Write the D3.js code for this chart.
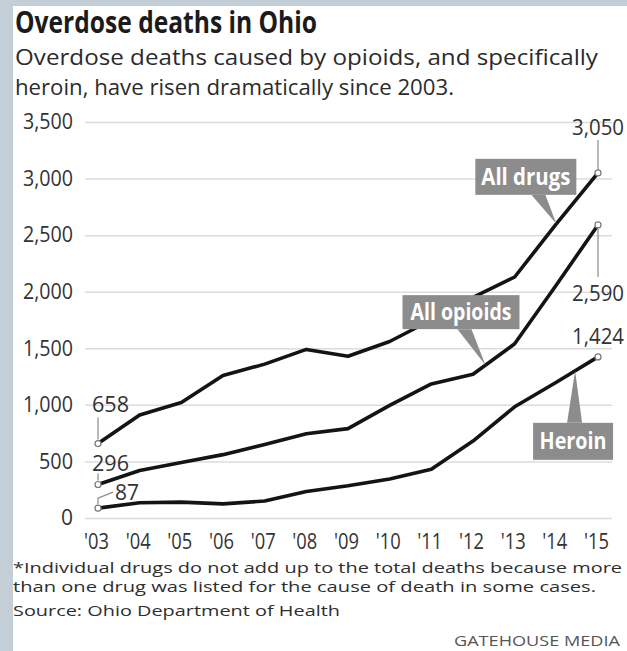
<!DOCTYPE html>
<html><head><meta charset="utf-8">
<script src="https://cdn.jsdelivr.net/npm/d3@7"></script>
<style>
body{margin:0;background:#fff;}
svg{display:block}
text{font-family:"Open Sans","Noto Sans",sans-serif;}
</style></head><body>
<svg id="c" width="627" height="651"></svg>
<script>
// ---------- data ----------
const years = [2003,2004,2005,2006,2007,2008,2009,2010,2011,2012,2013,2014,2015];
const allDrugs   = [658, 910, 1020, 1260, 1360, 1490, 1430, 1560, 1750, 1950, 2130, 2600, 3050];
const allOpioids = [296, 420, 490, 560, 650, 745, 790, 995, 1185, 1270, 1540, 2060, 2590];
const heroin     = [87, 135, 140, 125, 150, 235, 285, 345, 430, 680, 983, 1200, 1424];
const seriesNames = ["All drugs", "All opioids", "Heroin"];
const yTicks = [0, 500, 1000, 1500, 2000, 2500, 3000, 3500];
const titleText = "Overdose deaths in Ohio";
const subtitleLines = ["Overdose deaths caused by opioids, and specifically",
                       "heroin, have risen dramatically since 2003."];
const noteLines = ["*Individual drugs do not add up to the total deaths because more",
                   "than one drug was listed for the cause of death in some cases."];
const sourceText = "Source: Ohio Department of Health";
const creditText = "GATEHOUSE MEDIA";

// ---------- setup ----------
const W = 627, H = 651;
const svg = d3.select("#c");
const series = [allDrugs, allOpioids, heroin];

// frame: grey strips at left and top
svg.append("rect").attr("width", W).attr("height", H).attr("fill", "#c3ced6");
svg.append("rect").attr("x", 13).attr("y", 6).attr("width", W - 13).attr("height", H - 6).attr("fill", "#ffffff");

const x = d3.scaleLinear().domain([2003, 2015]).range([98, 598]);
const y = d3.scaleLinear().domain([0, 3500]).range([518, 122]);

// title & subtitle
svg.append("text").attr("x", 15).attr("y", 33)
  .attr("textLength", 302).attr("lengthAdjust", "spacingAndGlyphs")
  .style("font-size", "30px").style("font-weight", 700).attr("fill", "#1b1b1b")
  .text(titleText);
svg.selectAll("text.sub").data(subtitleLines).join("text").attr("class", "sub")
  .attr("x", 15).attr("y", (d, i) => 64.5 + i * 30)
  .attr("textLength", (d, i) => i === 0 ? 583 : 439).attr("lengthAdjust", "spacingAndGlyphs")
  .style("font-size", "21px").attr("fill", "#2b2b2b")
  .text(d => d);

// y axis with gridlines
const yAxis = d3.axisLeft(y).tickValues(yTicks).tickSize(-(612 - 85)).tickPadding(12)
  .tickFormat(d3.format(","));
const gy = svg.append("g").attr("transform", "translate(85,0)").call(yAxis);
gy.select(".domain").remove();
gy.selectAll(".tick line").attr("stroke", "#dcdcdc").attr("stroke-width", 1.5);
gy.selectAll(".tick text").attr("fill", "#333").style("font-size", "21px")
  .attr("textLength", d => d === 0 ? null : (d >= 1000 ? 50 : 34)).attr("lengthAdjust", "spacingAndGlyphs");

// x axis
const xAxis = d3.axisBottom(x).tickValues(years).tickSize(0).tickPadding(16)
  .tickFormat(d => "'" + String(d).slice(2));
const gx = svg.append("g").attr("transform", "translate(0,518)").call(xAxis);
gx.select(".domain").remove();
gx.selectAll(".tick text").attr("fill", "#333").style("font-size", "21px")
  .attr("textLength", 25).attr("lengthAdjust", "spacingAndGlyphs").attr("dx", "-2");

// lines
const line = d3.line().x((d, i) => x(years[i])).y(d => y(d));
svg.selectAll("path.series").data(series).join("path").attr("class", "series")
  .attr("d", d => line(d)).attr("fill", "none").attr("stroke", "#141414")
  .attr("stroke-width", 3.6).attr("stroke-linejoin", "round").attr("stroke-linecap", "round");

// end point value labels & leaders
const fmt = d3.format(",");
const leader = g => g.attr("fill", "none").attr("stroke", "#8a8a8a").attr("stroke-width", 1.2);
const first = i => ({px: x(years[0]), py: y(series[i][0]), v: series[i][0]});
const last = i => ({px: x(years[years.length - 1]), py: y(series[i][years.length - 1]), v: series[i][years.length - 1]});
const lblStyle = t => t.attr("fill", "#333").style("font-size", "22px");

// start labels
{
  const a = first(0);
  svg.append("path").call(leader).attr("d", `M${a.px},${a.py - 4}V${a.py - 26}`);
  svg.append("text").call(lblStyle).attr("x", a.px - 6).attr("y", a.py - 32)
    .attr("textLength", 37).attr("lengthAdjust", "spacingAndGlyphs").text(fmt(a.v));
  const b = first(1);
  svg.append("path").call(leader).attr("d", `M${b.px},${b.py - 4}V${b.py - 11}`);
  svg.append("text").call(lblStyle).attr("x", b.px - 6).attr("y", b.py - 14)
    .attr("textLength", 37).attr("lengthAdjust", "spacingAndGlyphs").text(fmt(b.v));
  const c = first(2);
  svg.append("path").call(leader).attr("d", `M${c.px},${c.py - 4}V${c.py - 10}L${c.px + 15},${c.py - 16}`);
  svg.append("text").call(lblStyle).attr("x", c.px + 17).attr("y", c.py - 8)
    .attr("textLength", 24).attr("lengthAdjust", "spacingAndGlyphs").text(fmt(c.v));
}
// end labels
{
  const a = last(0);
  svg.append("path").call(leader).attr("d", `M${a.px},${a.py - 4}V${a.py - 33}`);
  svg.append("text").call(lblStyle).attr("x", a.px).attr("y", a.py - 38).attr("text-anchor", "middle")
    .attr("textLength", 52).attr("lengthAdjust", "spacingAndGlyphs").text(fmt(a.v));
  const b = last(1);
  svg.append("path").call(leader).attr("d", `M${b.px},${b.py + 4}V${b.py + 52}`);
  svg.append("text").call(lblStyle).attr("x", b.px).attr("y", b.py + 76).attr("text-anchor", "middle")
    .attr("textLength", 52).attr("lengthAdjust", "spacingAndGlyphs").text(fmt(b.v));
  const c = last(2);
  svg.append("text").call(lblStyle).attr("x", c.px).attr("y", c.py - 13).attr("text-anchor", "middle")
    .attr("textLength", 52).attr("lengthAdjust", "spacingAndGlyphs").text(fmt(c.v));
}

// endpoint circles
const ends = [];
series.forEach((s, i) => { ends.push(first(i)); ends.push(last(i)); });
svg.selectAll("circle.end").data(ends).join("circle").attr("class", "end")
  .attr("cx", d => d.px).attr("cy", d => d.py).attr("r", 3)
  .attr("fill", "#fff").attr("stroke", "#777").attr("stroke-width", 1.2);

// callouts: tip on the series at a fractional year; box offset from tip
function at(s, yr) {
  const i = Math.floor(yr - 2003), f = yr - 2003 - i;
  const v = s[i] + (s[Math.min(i + 1, s.length - 1)] - s[i]) * f;
  return [x(yr), y(v)];
}
const callouts = [
  {s: 0, yr: 2014, bx: -81, by: -65, bw: 101, bh: 36, b0: -25, b1: -11, up: false, tl: 89},
  {s: 1, yr: 2012.3, bx: -83, by: -70, bw: 117, bh: 34, b0: -28, b1: -14, up: false, tl: 101},
  {s: 2, yr: 2014.45, bx: -42, by: 52, bw: 80, bh: 37, b0: -8, b1: 7, up: true, tl: 67}
];
callouts.forEach(c => {
  const [tx, ty] = at(series[c.s], c.yr);
  const bx = tx + c.bx, by = ty + c.by;
  const baseY = c.up ? by : by + c.bh;
  svg.append("path").attr("d", `M${tx + c.b0},${baseY}L${tx},${ty}L${tx + c.b1},${baseY}Z`).attr("fill", "#8c8c8c");
  svg.append("rect").attr("x", bx).attr("y", by).attr("width", c.bw).attr("height", c.bh).attr("fill", "#8c8c8c");
  svg.append("text").attr("x", bx + c.bw / 2).attr("y", by + c.bh / 2 + 8).attr("text-anchor", "middle")
    .attr("fill", "#fff").style("font-size", "23px").style("font-weight", 700)
    .attr("textLength", c.tl).attr("lengthAdjust", "spacingAndGlyphs")
    .text(seriesNames[c.s]);
});

// footnotes
svg.selectAll("text.note").data(noteLines).join("text").attr("class", "note")
  .attr("x", 13).attr("y", (d, i) => 573 + i * 19)
  .attr("textLength", (d, i) => i === 0 ? 609 : 583).attr("lengthAdjust", "spacingAndGlyphs")
  .style("font-size", "14.5px").attr("fill", "#2e2e2e").text(d => d);
svg.append("text").attr("x", 13).attr("y", 616)
  .attr("textLength", 327).attr("lengthAdjust", "spacingAndGlyphs")
  .style("font-size", "15px").attr("fill", "#2e2e2e").text(sourceText);
svg.append("text").attr("x", 620).attr("y", 646).attr("text-anchor", "end")
  .attr("textLength", 166).attr("lengthAdjust", "spacingAndGlyphs")
  .style("font-size", "14px").attr("fill", "#555").text(creditText);
</script>
</body></html>
